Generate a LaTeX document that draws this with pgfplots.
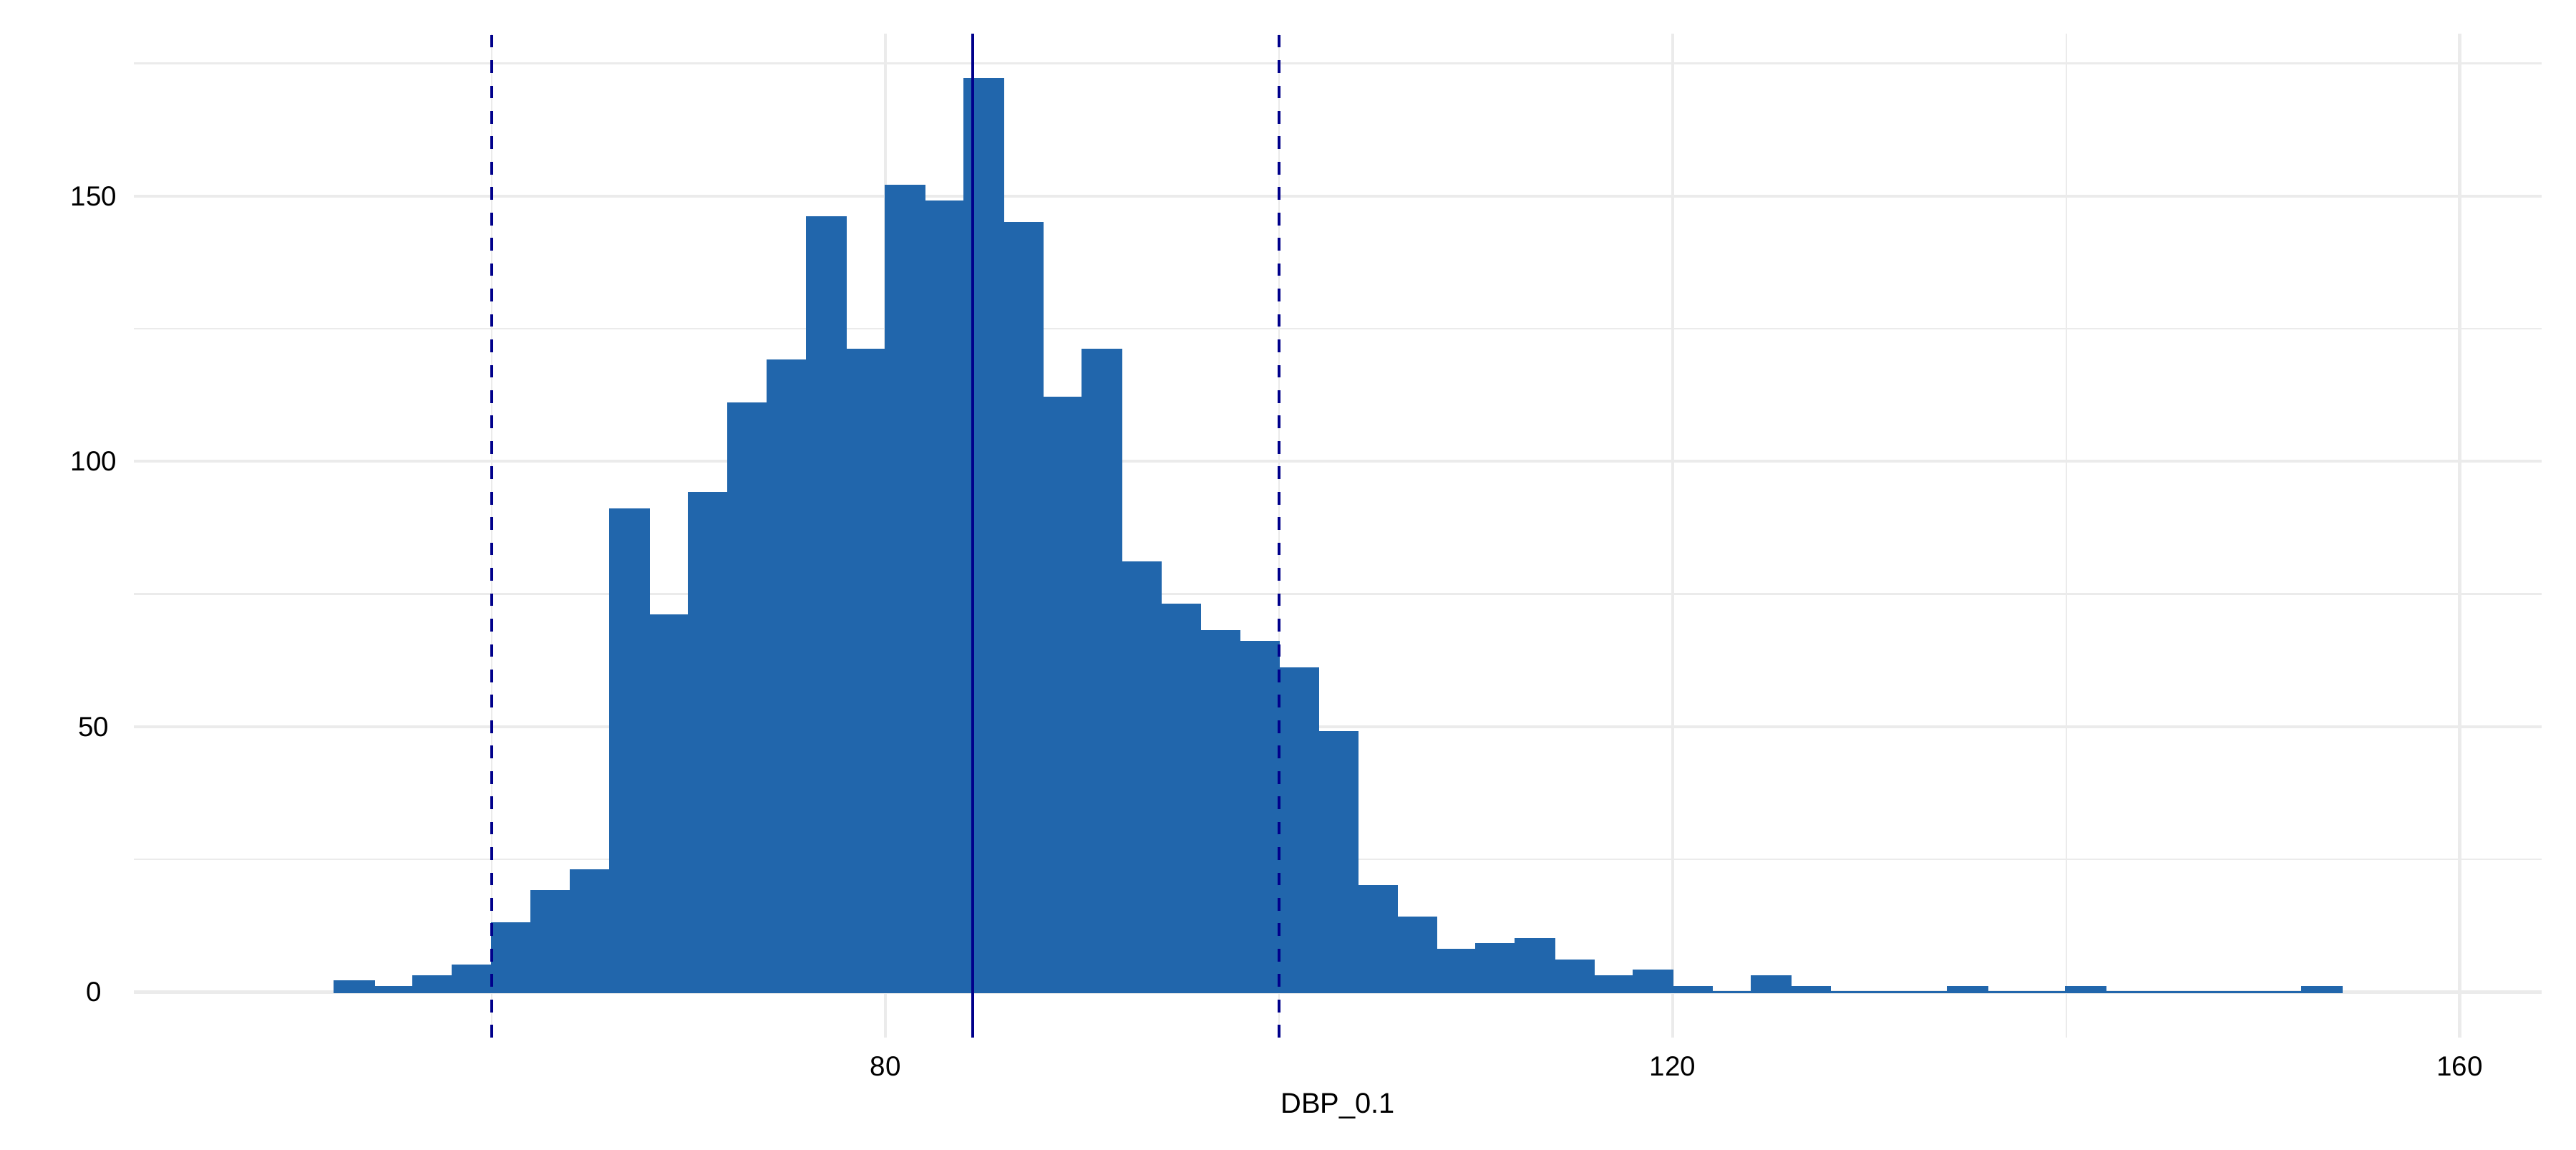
\documentclass[border=0pt]{standalone}
\usepackage{fontspec}
\setmainfont{Liberation Sans}
\usepackage{pgfplots}
\pgfplotsset{compat=1.18}
\definecolor{BarBlue}{HTML}{2166AC}
\definecolor{LineBlue}{HTML}{00008B}
\definecolor{Grid}{HTML}{EBEBEB}

% histogram counts, bins of width 2 (left edge, count); last row closes the interval
\pgfplotstableread{
x   n
52  2
54  1
56  3
58  5
60  13
62  19
64  23
66  91
68  71
70  94
72  111
74  119
76  146
78  121
80  152
82  149
84  172
86  145
88  112
90  121
92  81
94  73
96  68
98  66
100 61
102 49
104 20
106 14
108 8
110 9
112 10
114 6
116 3
118 4
120 1
122 0
124 3
126 1
128 0
130 0
132 0
134 1
136 0
138 0
140 1
142 0
144 0
146 0
148 0
150 0
152 1
154 0
}\dbp

\begin{document}
\begin{tikzpicture}
\begin{axis}[
  at={(0,0)}, anchor=south west,
  scale only axis,
  width=28.482cm, height=11.870cm,
  xmin=41.8, xmax=164.17,
  ymin=-8.6, ymax=180.6,
  axis line style={draw=none},
  tick style={draw=none},
  xtick={80,120,160},
  xticklabels={80,120,160},
  ytick={0,50,100,150},
  yticklabels={0,50,100,150},
  minor xtick={60,100,140},
  minor ytick={25,75,125,175},
  grid=both,
  major grid style={draw=Grid, line width=1.07pt},
  minor grid style={draw=Grid, line width=0.53pt},
  ticklabel style={font=\fontsize{9.3}{11}\selectfont, inner sep=0pt},
  xticklabel style={anchor=north, yshift=-0.220cm},
  yticklabel style={anchor=center, xshift=-0.474cm},
  xlabel={DBP\_0.1},
  xlabel style={at={(axis description cs:0.5,0)}, anchor=base, yshift=-0.897cm,
    inner sep=0pt, font=\fontsize{9.6}{11}\selectfont},
]
\addplot[ybar interval, fill=BarBlue, draw=BarBlue, line width=0.6pt] table[x=x, y=n] {\dbp};

% reference lines
\addplot[LineBlue, line width=1pt, dash pattern=on 4.27pt off 4.27pt] coordinates {(60,-8.6) (60,180.6)};
\addplot[LineBlue, line width=1pt] coordinates {(84.43,-8.6) (84.43,180.6)};
\addplot[LineBlue, line width=1pt, dash pattern=on 4.27pt off 4.27pt] coordinates {(100,-8.6) (100,180.6)};
\end{axis}
\pgfresetboundingbox
\path (-1.583cm,-1.329cm) rectangle ++(30.471cm,13.597cm);
\end{tikzpicture}
\end{document}
